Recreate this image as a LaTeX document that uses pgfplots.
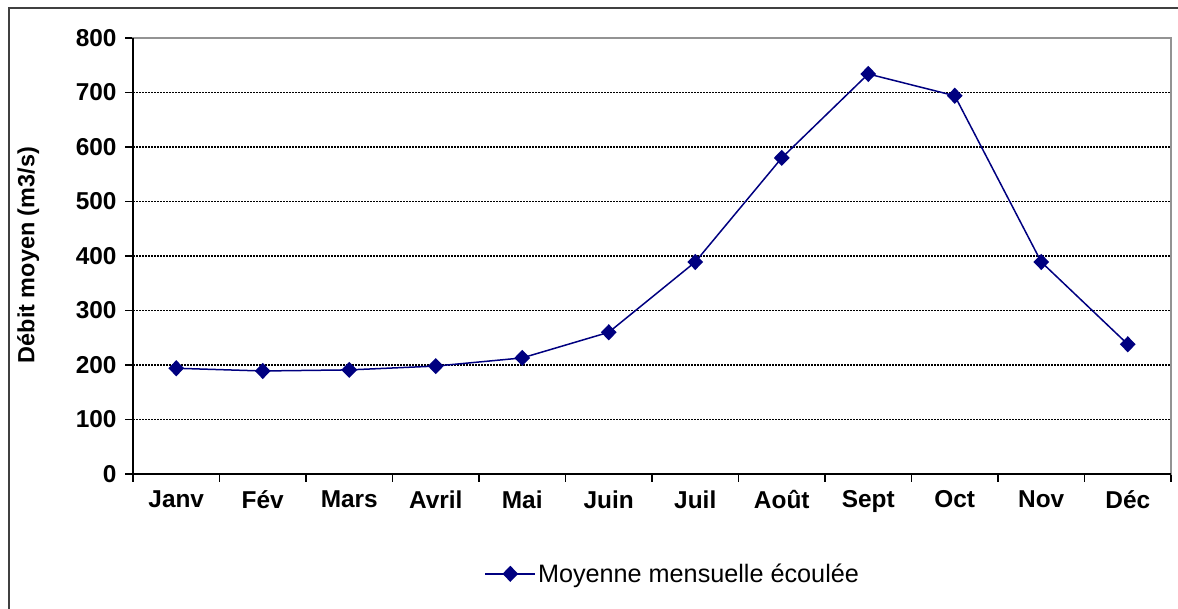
\documentclass[border=0pt]{standalone}
\usepackage{pgfplots}
\pgfplotsset{compat=1.18}
\usepackage{fontspec}
\setmainfont{Liberation Sans}
\definecolor{navyc}{RGB}{0,0,128}
\begin{document}
\begin{tikzpicture}[x=1bp,y=1bp]
\useasboundingbox (0,0) rectangle (1178,609);
\draw[line width=2bp, black!75] (9,0) -- (9,601) -- (1178,601);
\begin{axis}[
  at={(133bp,135bp)}, anchor=south west,
  scale only axis, width=1038bp, height=436bp,
  xmin=0.5, xmax=12.5, ymin=0, ymax=800,
  xtick={0.5,1.5,...,12.5},
  x tick label as interval,
  xticklabels={Janv,Fév,Mars,Avril,Mai,Juin,Juil,Août,Sept,Oct,Nov,Déc},
  ytick={0,100,...,800},
  tick align=outside,
  major tick length=8bp,
  every tick/.style={black, line width=1.5bp},
  xtick pos=bottom, ytick pos=left,
  ymajorgrids,
  major grid style={black, line width=1.5bp, dash pattern=on 1.5bp off 1.5bp},
  axis line style={draw=gray!85, line width=2bp},
  /pgf/number format/assume math mode=true,
  ticklabel style={font=\fontsize{24.5}{28}\selectfont\bfseries},
  xticklabel style={yshift=-5bp},
  yticklabel style={xshift=-5bp},
  ylabel={Débit moyen (m3/s)},
  ylabel style={at={(rel axis cs:-0.101,0.502)}, anchor=center, font=\fontsize{23.5}{27}\selectfont\bfseries},
  legend style={at={(0.520,-0.229)}, anchor=center, draw=none, fill=none, font=\fontsize{25.3}{29}\selectfont},
  legend image code/.code={\draw[#1, mark repeat=2, mark phase=2] plot coordinates {(0bp,0bp) (25bp,0bp) (50bp,0bp)};},
  clip=false,
]
\draw[black, line width=2bp] (rel axis cs:0,1) -- (rel axis cs:0,0) -- (rel axis cs:1,0);
\addplot[navyc, line width=1.5bp, mark=diamond*, mark size=7bp, mark options={xscale=1.3, fill=navyc}]
coordinates {(1,194) (2,189) (3,191) (4,198) (5,213) (6,260) (7,389) (8,580) (9,734) (10,694) (11,389) (12,238)};
\addlegendentry{Moyenne mensuelle écoulée}
\end{axis}
\end{tikzpicture}
\end{document}
